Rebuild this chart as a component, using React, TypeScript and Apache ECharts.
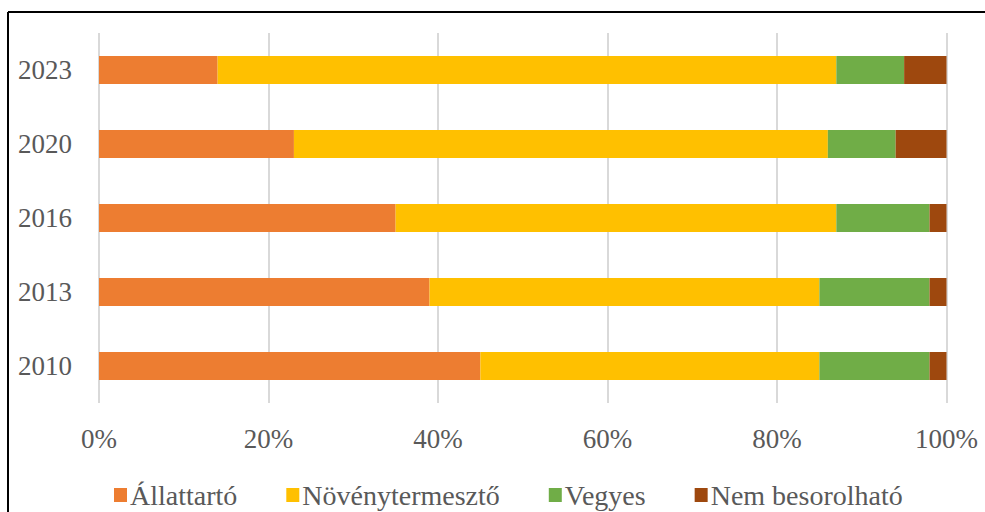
import React, { useEffect, useRef } from "react";
import * as echarts from "echarts";

const years = ["2010", "2013", "2016", "2020", "2023"];
const seriesNames = ["Állattartó", "Növénytermesztő", "Vegyes", "Nem besorolható"];
const allattarto = [45, 39, 35, 23, 14];
const novenytermeszto = [40, 46, 52, 63, 73];
const vegyes = [13, 13, 11, 8, 8];
const nemBesorolhato = [2, 2, 2, 6, 5];
const colors = ["#ED7D31", "#FFC000", "#70AD47", "#9E480E"];

const FONT = "'Liberation Serif', 'Times New Roman', serif";

export default function App() {
  const ref = useRef<HTMLDivElement>(null);
  useEffect(() => {
    if (!ref.current) return;
    const chart = echarts.init(ref.current, undefined, { renderer: "svg" });
    const values = [allattarto, novenytermeszto, vegyes, nemBesorolhato];
    chart.setOption({
      animation: false,
      backgroundColor: "#ffffff",
      grid: { left: 99, right: 38.5, top: 33, bottom: 109, containLabel: false },
      xAxis: {
        type: "value",
        min: 0,
        max: 100,
        interval: 20,
        axisLine: { show: false },
        axisTick: { show: false },
        splitLine: { lineStyle: { color: "#D9D9D9", width: 2 } },
        axisLabel: {
          formatter: "{value}%",
          color: "#595959",
          fontFamily: FONT,
          fontSize: 27,
          margin: 22,
        },
      },
      yAxis: {
        type: "category",
        data: years,
        axisLine: { show: false },
        axisTick: { show: false },
        axisLabel: { color: "#595959", fontFamily: FONT, fontSize: 27, margin: 27 },
      },
      legend: {
        left: 109,
        top: 476,
        itemWidth: 13,
        itemHeight: 14,
        itemGap: 49,
        icon: "rect",
        textStyle: { color: "#595959", fontFamily: FONT, fontSize: 28, padding: [0, 0, 0, -2] },
        data: seriesNames,
      },
      series: seriesNames.map((name, i) => ({
        name,
        type: "bar",
        stack: "total",
        barWidth: 28,
        data: values[i],
        itemStyle: { color: colors[i] },
      })),
      graphic: [
        { type: "line", shape: { x1: 8, y1: 12, x2: 985, y2: 12 }, style: { stroke: "#000", lineWidth: 2 } },
        { type: "line", shape: { x1: 8, y1: 12, x2: 8, y2: 512 }, style: { stroke: "#000", lineWidth: 2 } },
      ],
    });
    return () => chart.dispose();
  }, []);
  return (
    <div
      ref={ref}
      style={{ position: "fixed", left: 0, top: 0, width: 985, height: 512 }}
    />
  );
}
